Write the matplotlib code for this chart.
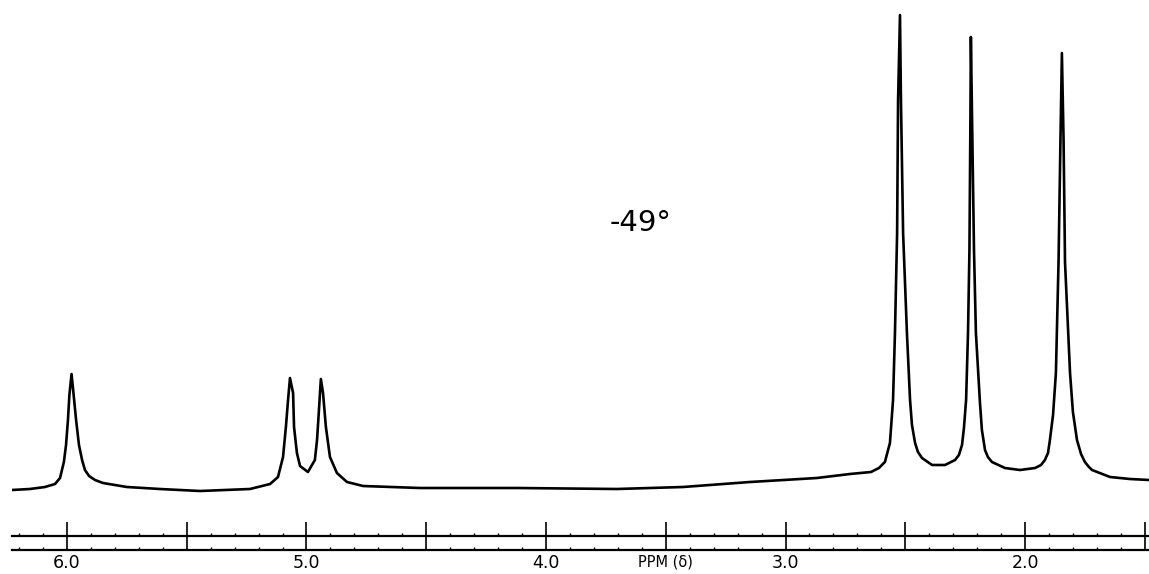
import matplotlib
matplotlib.use("Agg")
import matplotlib.pyplot as plt
from matplotlib.ticker import FixedLocator, MultipleLocator
from matplotlib.markers import TICKUP

# trace: chemical shift (ppm) and signal height (arbitrary units)
ppm = [6.230, 6.155, 6.092, 6.050, 6.029, 6.013, 6.004, 5.996, 5.990, 5.981,
       5.973, 5.962, 5.950, 5.937, 5.925, 5.908, 5.883, 5.850, 5.750, 5.612,
       5.445, 5.236, 5.152, 5.119, 5.098, 5.086, 5.077, 5.069, 5.056, 5.052,
       5.040, 5.027, 4.994, 4.965, 4.956, 4.948, 4.940, 4.931, 4.919, 4.902,
       4.873, 4.831, 4.764, 4.526, 4.121, 3.704, 3.428, 3.148, 2.869, 2.731,
       2.643, 2.610, 2.585, 2.564, 2.551, 2.543, 2.534, 2.530, 2.522, 2.518,
       2.509, 2.493, 2.480, 2.472, 2.459, 2.447, 2.430, 2.388, 2.334, 2.292,
       2.276, 2.263, 2.255, 2.246, 2.238, 2.232, 2.228, 2.226, 2.221, 2.213,
       2.205, 2.188, 2.180, 2.167, 2.155, 2.138, 2.084, 2.021, 1.958, 1.933,
       1.917, 1.904, 1.896, 1.883, 1.871, 1.860, 1.852, 1.846, 1.839, 1.833,
       1.812, 1.800, 1.783, 1.766, 1.750, 1.733, 1.720, 1.645, 1.562, 1.482]
signal = [0, 1, 3, 6, 12, 28, 45, 70, 95, 116,
          97, 70, 45, 30, 20, 14, 10, 7, 3, 1,
          -1, 1, 6, 13, 33, 63, 90, 112, 97, 63,
          37, 24, 18, 30, 50, 80, 111, 97, 63, 33,
          17, 8, 4, 2, 2, 1, 3, 8, 12, 16,
          18, 22, 28, 47, 90, 157, 257, 390, 475, 390,
          257, 157, 90, 65, 47, 38, 32, 25, 25, 30,
          35, 45, 62, 90, 157, 240, 370, 453, 370, 240,
          157, 87, 60, 40, 33, 28, 22, 20, 22, 25,
          30, 37, 50, 75, 117, 228, 350, 437, 350, 228,
          117, 78, 50, 36, 28, 23, 20, 13, 11, 10]

major_ticks = [6.0, 5.5, 5.0, 4.5, 4.0, 3.5, 3.0, 2.5, 2.0, 1.5]
major_labels = ["6.0", "", "5.0", "", "4.0", "PPM (δ)", "3.0", "", "2.0", ""]
temp_label = "-49°"

W, H = 1149, 574
fig = plt.figure(figsize=(W / 100, H / 100), dpi=100)
left = 12 / W
xlim = (6.2296, 1.4823)

# spectrum
ax = fig.add_axes([left, 0, 1 - left, 1])
ax.plot(ppm, signal, color="black", lw=1.9, solid_joinstyle="round")
ax.set_xlim(*xlim)
ax.set_ylim(-84, 490)
ax.set_axis_off()

# chart-paper ruler: two rails, ticks all pointing up
rax = fig.add_axes([left, 24 / H, 1 - left, 14 / H])
rax.set_xlim(*xlim)
rax.set_yticks([])
rax.patch.set_alpha(0)
for s in ["left", "right"]:
    rax.spines[s].set_visible(False)
for s in ["top", "bottom"]:
    rax.spines[s].set_linewidth(1.6)
rax.xaxis.set_major_locator(FixedLocator(major_ticks))
rax.xaxis.set_minor_locator(MultipleLocator(0.1))
rax.set_xticklabels(major_labels)
rax.tick_params(axis="x", which="major", top=True, bottom=True, direction="in",
                length=10, width=1.2, labelsize=12.5, pad=3)
rax.tick_params(axis="x", which="minor", top=True, bottom=True, direction="in",
                length=2.2, width=1.0)
for t in rax.xaxis.get_major_ticks() + rax.xaxis.get_minor_ticks():
    t.tick2line.set_marker(TICKUP)
for lab in rax.get_xticklabels():
    if lab.get_text().startswith("PPM"):
        lab.set_fontsize(10.5)

fig.text(641 / W, 1 - 223 / H, temp_label, fontsize=21, ha="center", va="center")

fig.savefig("out.png", dpi=100)
